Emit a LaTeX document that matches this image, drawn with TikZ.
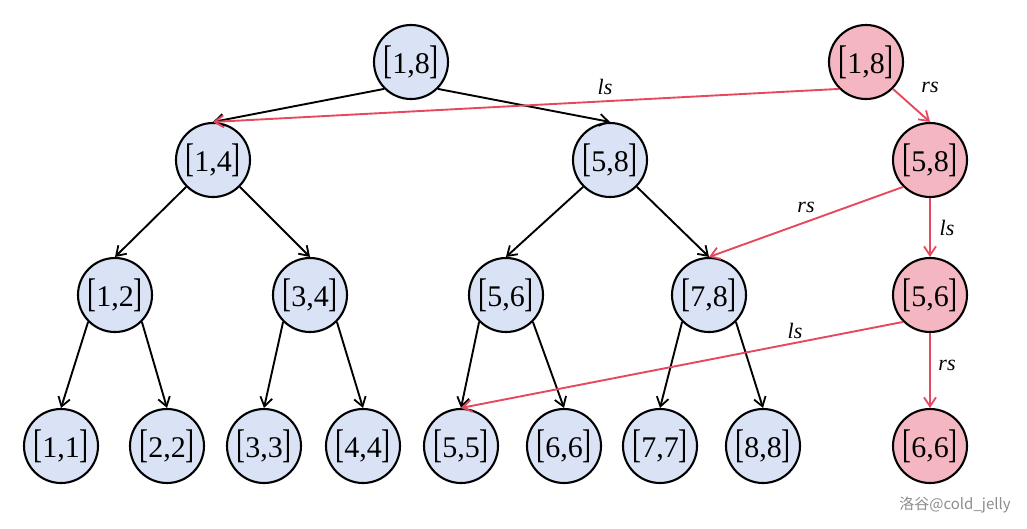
\documentclass[tikz,border=0pt]{standalone}
\usepackage{graphicx}
\usepackage{fontspec}
\setmainfont{Liberation Serif}
\newfontfamily\cjkfont{Noto Sans CJK SC}
\usetikzlibrary{arrows.meta}
\definecolor{bluefill}{RGB}{218,227,245}
\definecolor{pinkfill}{RGB}{244,182,192}
\definecolor{redline}{RGB}{230,72,96}
\newcommand\ivl[2]{\scalebox{0.9}[1.33]{[}#1,#2\scalebox{0.9}[1.33]{]}}
\begin{document}
\begin{tikzpicture}[x=1pt,y=-1pt,
  seg/.style={circle,draw=black,line width=2.1pt,minimum size=74pt,inner sep=0pt,fill=bluefill,font=\fontsize{30}{30}\selectfont},
  rseg/.style={seg,fill=pinkfill},
  tree/.style={-{Straight Barb[length=9pt,width=12pt,line width=1.8pt]},line width=1.9pt,black},
  ptr/.style={-{Straight Barb[length=9pt,width=12pt,line width=1.8pt]},line width=1.9pt,redline},
  lab/.style={font=\fontsize{22}{22}\selectfont\itshape}]
\useasboundingbox (0,0) rectangle (1027,528);
\node[seg] (r) at (411,62) {\ivl18};
\node[seg] (a) at (213,160) {\ivl14};
\node[seg] (b) at (610,160) {\ivl58};
\node[seg] (c) at (115,295) {\ivl12};
\node[seg] (d) at (310,295) {\ivl34};
\node[seg] (e) at (506,295) {\ivl56};
\node[seg] (f) at (709,295) {\ivl78};
\node[seg] (l1) at (61,446) {\ivl11};
\node[seg] (l2) at (167,446) {\ivl22};
\node[seg] (l3) at (264,446) {\ivl33};
\node[seg] (l4) at (363,446) {\ivl44};
\node[seg] (l5) at (461,446) {\ivl55};
\node[seg] (l6) at (564,446) {\ivl66};
\node[seg] (l7) at (660,446) {\ivl77};
\node[seg] (l8) at (763,446) {\ivl88};
\node[rseg] (p1) at (866,62) {\ivl18};
\node[rseg] (p2) at (930,160) {\ivl58};
\node[rseg] (p3) at (930,295) {\ivl56};
\node[rseg] (p4) at (930,446) {\ivl66};
\draw[tree] (r.south west) -- (a.north);
\draw[tree] (r.south east) -- (b.north);
\draw[tree] (a.south west) -- (c.north);
\draw[tree] (a.south east) -- (d.north);
\draw[tree] (b.south west) -- (e.north);
\draw[tree] (b.south east) -- (f.north);
\draw[tree] (c.south west) -- (l1.north);
\draw[tree] (c.south east) -- (l2.north);
\draw[tree] (d.south west) -- (l3.north);
\draw[tree] (d.south east) -- (l4.north);
\draw[tree] (e.south west) -- (l5.north);
\draw[tree] (e.south east) -- (l6.north);
\draw[tree] (f.south west) -- (l7.north);
\draw[tree] (f.south east) -- (l8.north);
\draw[ptr] (p1.south west) -- (a.north);
\draw[ptr] (p1.south east) -- (p2.north);
\draw[ptr] (p2.south west) -- (f.north);
\draw[ptr] (p2.south) -- (p3.north);
\draw[ptr] (p3.south west) -- (l5.north);
\draw[ptr] (p3.south) -- (p4.north);
\node[lab] (t1) at (605,87) {ls};
\node[lab] (t2) at (930,87) {rs};
\node[lab] (t3) at (806,207) {rs};
\node[lab] (t4) at (947,228) {ls};
\node[lab] (t5) at (795,331) {ls};
\node[lab] (t6) at (947,365) {rs};
\node[font=\cjkfont\fontsize{15}{15}\selectfont,text=black!45] (wm) at (955,505) {洛谷@cold\_jelly};
\end{tikzpicture}
\end{document}
